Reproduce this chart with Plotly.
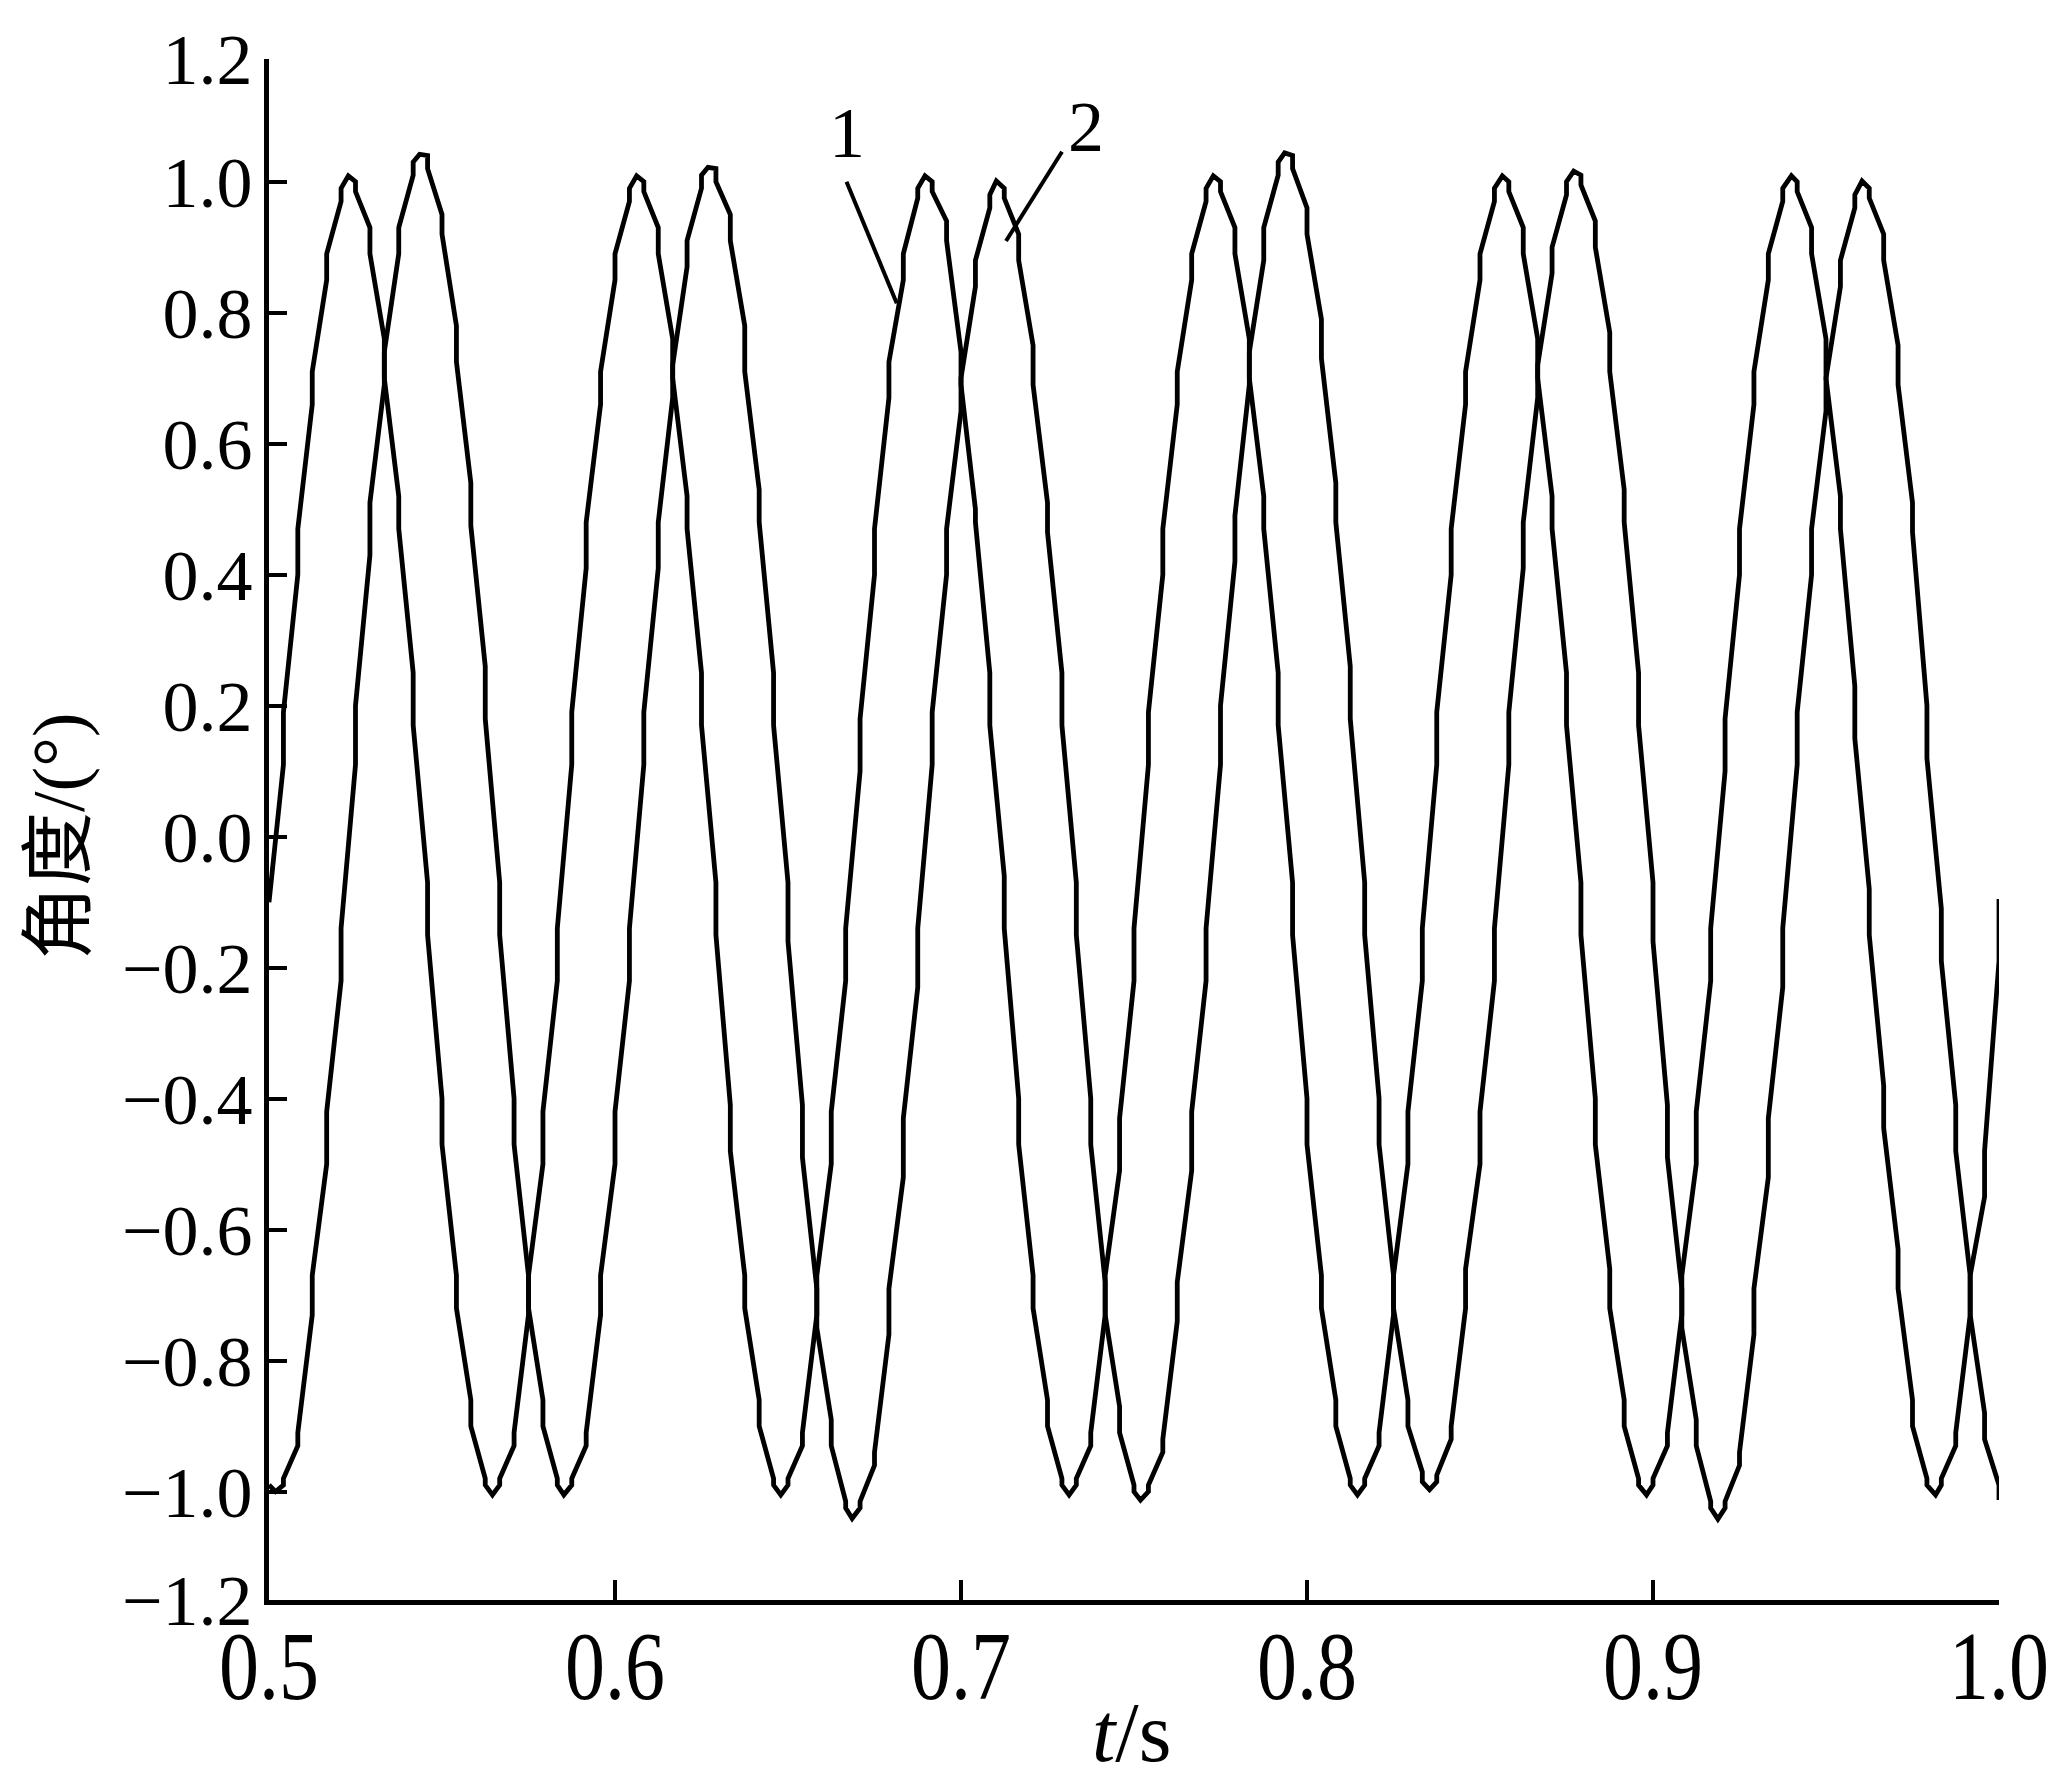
import plotly.graph_objects as go

# ---- sample-time grid (s) ----
t_grid = [0.5, 0.50417, 0.50833, 0.5125, 0.51667, 0.52083, 0.525, 0.52917, 0.53333, 0.5375,
          0.54167, 0.54583, 0.55, 0.55417, 0.55833, 0.5625, 0.56667, 0.57083, 0.575, 0.57917,
          0.58333, 0.5875, 0.59167, 0.59583, 0.6, 0.60417, 0.60833, 0.6125, 0.61667, 0.62083,
          0.625, 0.62917, 0.63333, 0.6375, 0.64167, 0.64583, 0.65, 0.65417, 0.65833, 0.6625,
          0.66667, 0.67083, 0.675, 0.67917, 0.68333, 0.6875, 0.69167, 0.69583, 0.7, 0.70417,
          0.70833, 0.7125, 0.71667, 0.72083, 0.725, 0.72917, 0.73333, 0.7375, 0.74167, 0.74583,
          0.75, 0.75417, 0.75833, 0.7625, 0.76667, 0.77083, 0.775, 0.77917, 0.78333, 0.7875,
          0.79167, 0.79583, 0.8, 0.80417, 0.80833, 0.8125, 0.81667, 0.82083, 0.825, 0.82917,
          0.83333, 0.8375, 0.84167, 0.84583, 0.85, 0.85417, 0.85833, 0.8625, 0.86667, 0.87083,
          0.875, 0.87917, 0.88333, 0.8875, 0.89167, 0.89583, 0.9, 0.90417, 0.90833, 0.9125,
          0.91667, 0.92083, 0.925, 0.92917, 0.93333, 0.9375, 0.94167, 0.94583, 0.95, 0.95417,
          0.95833, 0.9625, 0.96667, 0.97083, 0.975, 0.97917, 0.98333, 0.9875, 0.99167, 0.99583,
          1.0]

# ---- curve 1: value entering / leaving each sample step ----
c1_in = [-0.10, 0.11, 0.40, 0.66, 0.85, 0.97, 1.00, 0.93, 0.76, 0.52,
         0.25, -0.07, -0.40, -0.67, -0.86, -0.98, -0.99, -0.93, -0.73, -0.50,
         -0.22, 0.11, 0.41, 0.66, 0.85, 0.97, 1.00, 0.93, 0.76, 0.52,
         0.25, -0.07, -0.41, -0.67, -0.86, -0.98, -0.99, -0.93, -0.73, -0.50,
         -0.22, 0.10, 0.40, 0.67, 0.85, 0.975, 1.00, 0.94, 0.74, 0.50,
         0.25, -0.06, -0.40, -0.67, -0.86, -0.98, -0.99, -0.93, -0.73, -0.51,
         -0.22, 0.11, 0.40, 0.66, 0.85, 0.97, 1.00, 0.93, 0.76, 0.52,
         0.25, -0.07, -0.40, -0.67, -0.86, -0.98, -0.99, -0.93, -0.73, -0.50,
         -0.22, 0.11, 0.40, 0.66, 0.85, 0.97, 1.00, 0.93, 0.76, 0.52,
         0.25, -0.07, -0.40, -0.66, -0.86, -0.98, -0.99, -0.93, -0.73, -0.50,
         -0.22, 0.10, 0.40, 0.66, 0.85, 0.97, 1.00, 0.93, 0.76, 0.52,
         0.23, -0.08, -0.38, -0.63, -0.86, -0.98, -0.99, -0.93, -0.73, -0.55,
         -0.19]
c1_out = [-0.10, 0.19, 0.47, 0.71, 0.89, 0.99, 0.985, 0.89, 0.70, 0.47,
          0.17, -0.15, -0.47, -0.72, -0.90, -0.99, -0.98, -0.91, -0.67, -0.42,
          -0.14, 0.19, 0.48, 0.71, 0.89, 0.99, 0.985, 0.89, 0.70, 0.47,
          0.17, -0.15, -0.48, -0.72, -0.90, -0.99, -0.98, -0.91, -0.67, -0.42,
          -0.14, 0.18, 0.47, 0.725, 0.89, 0.99, 0.985, 0.91, 0.69, 0.48,
          0.17, -0.14, -0.47, -0.72, -0.90, -0.99, -0.98, -0.91, -0.67, -0.43,
          -0.14, 0.19, 0.47, 0.71, 0.89, 0.99, 0.985, 0.89, 0.70, 0.47,
          0.17, -0.15, -0.47, -0.72, -0.90, -0.99, -0.98, -0.91, -0.67, -0.42,
          -0.14, 0.19, 0.47, 0.71, 0.89, 0.99, 0.985, 0.89, 0.70, 0.47,
          0.17, -0.15, -0.47, -0.72, -0.90, -0.99, -0.98, -0.91, -0.67, -0.42,
          -0.14, 0.18, 0.47, 0.71, 0.89, 0.99, 0.985, 0.89, 0.70, 0.47,
          0.15, -0.15, -0.445, -0.69, -0.90, -0.99, -0.98, -0.91, -0.67, -0.48,
          -0.095]
c1_ext_t = [0.52292, 0.56458, 0.60625, 0.64792, 0.68958, 0.73125,
            0.77292, 0.81458, 0.85646, 0.89813, 0.94, 0.98167]
c1_ext_y = [1.009, -1.005, 1.009, -1.005, 1.009, -1.005,
            1.009, -1.005, 1.009, -1.005, 1.009, -1.005]

# ---- curve 2 ----
c2_in = [-0.99, -0.99, -0.93, -0.73, -0.50, -0.22, 0.11, 0.43, 0.69, 0.89,
         1.01, 1.04, 0.95, 0.78, 0.54, 0.26, -0.07, -0.40, -0.67, -0.86,
         -0.98, -0.99, -0.93, -0.73, -0.50, -0.22, 0.11, 0.41, 0.67, 0.87,
         0.99, 1.02, 0.95, 0.78, 0.53, 0.25, -0.07, -0.41, -0.69, -0.89,
         -1.015, -1.025, -0.96, -0.76, -0.52, -0.23, 0.11, 0.40, 0.65, 0.84,
         0.96, 0.99, 0.92, 0.75, 0.51, 0.25, -0.07, -0.40, -0.68, -0.87,
         -0.99, -1.00, -0.94, -0.74, -0.51, -0.22, 0.11, 0.42, 0.69, 0.88,
         1.01, 1.04, 0.96, 0.79, 0.54, 0.26, -0.07, -0.40, -0.67, -0.86,
         -0.97, -0.985, -0.92, -0.72, -0.50, -0.22, 0.11, 0.41, 0.67, 0.86,
         0.98, 1.01, 0.94, 0.77, 0.53, 0.25, -0.07, -0.41, -0.69, -0.89,
         -1.015, -1.025, -0.96, -0.76, -0.52, -0.23, 0.11, 0.40, 0.65, 0.84,
         0.96, 0.99, 0.92, 0.75, 0.51, 0.20, -0.11, -0.41, -0.67, -0.88,
         -0.99]
c2_out = [-0.99, -0.98, -0.91, -0.67, -0.42, -0.14, 0.20, 0.51, 0.74, 0.93,
          1.03, 1.02, 0.92, 0.725, 0.475, 0.18, -0.15, -0.47, -0.72, -0.90,
          -0.99, -0.98, -0.91, -0.67, -0.42, -0.14, 0.19, 0.48, 0.72, 0.91,
          1.01, 1.00, 0.91, 0.71, 0.48, 0.17, -0.16, -0.49, -0.75, -0.93,
          -1.025, -1.015, -0.94, -0.69, -0.43, -0.14, 0.19, 0.47, 0.70, 0.88,
          0.98, 0.975, 0.88, 0.69, 0.465, 0.17, -0.15, -0.47, -0.73, -0.91,
          -1.00, -0.99, -0.92, -0.68, -0.42, -0.14, 0.20, 0.49, 0.74, 0.93,
          1.03, 1.02, 0.92, 0.73, 0.48, 0.18, -0.15, -0.47, -0.72, -0.90,
          -0.985, -0.975, -0.90, -0.66, -0.42, -0.14, 0.19, 0.48, 0.72, 0.90,
          1.00, 0.995, 0.90, 0.71, 0.48, 0.17, -0.16, -0.49, -0.75, -0.93,
          -1.025, -1.015, -0.94, -0.69, -0.43, -0.14, 0.19, 0.47, 0.70, 0.88,
          0.98, 0.975, 0.88, 0.69, 0.465, 0.12, -0.19, -0.48, -0.73, -0.92,
          -1.013]
c2_ext_t = [0.50188, 0.54354, 0.58521, 0.62688, 0.66854, 0.71021,
            0.75188, 0.79354, 0.83542, 0.87708, 0.91875, 0.96042]
c2_ext_y = [-1.0, 1.042, -1.005, 1.022, -1.041, 1.001,
            -1.013, 1.044, -0.997, 1.016, -1.042, 1.001]

x_tick_vals = [0.5, 0.6, 0.7, 0.8, 0.9, 1.0]
x_tick_text = ["0.5", "0.6", "0.7", "0.8", "0.9", "1.0"]
y_tick_vals = [-1.1655, -1.0, -0.8, -0.6, -0.4, -0.2, 0.0, 0.2, 0.4, 0.6, 0.8, 1.0, 1.1874]
y_tick_text = ["\u22121.2", "\u22121.0", "\u22120.8", "\u22120.6", "\u22120.4", "\u22120.2",
               "0.0", "0.2", "0.4", "0.6", "0.8", "1.0", "1.2"]


def build_path(tg, y_in, y_out, ext_t, ext_y):
    pts = []
    for k in range(len(tg)):
        pts.append((tg[k], y_in[k]))
        pts.append((tg[k], y_out[k]))
    pts += list(zip(ext_t, ext_y))
    pts.sort(key=lambda p: p[0])
    return [p[0] for p in pts], [p[1] for p in pts]


x1, y1 = build_path(t_grid, c1_in, c1_out, c1_ext_t, c1_ext_y)
x2, y2 = build_path(t_grid, c2_in, c2_out, c2_ext_t, c2_ext_y)

SERIF = "Liberation Serif, Times New Roman, serif"

fig = go.Figure()
for xs, ys, nm in [(x1, y1, "1"), (x2, y2, "2")]:
    fig.add_trace(go.Scatter(x=xs, y=ys, mode="lines", name=nm,
                             line=dict(color="black", width=4.8, simplify=False),
                             hoverinfo="skip"))

fig.update_layout(
    width=2048, height=1785,
    margin=dict(l=269, r=49, t=59, b=185, pad=0),
    paper_bgcolor="white", plot_bgcolor="white",
    showlegend=False,
    font=dict(family=SERIF, color="black"),
)
fig.update_xaxes(range=[0.5, 1.0], tickvals=x_tick_vals, ticktext=x_tick_text,
                 ticks="inside", ticklen=20, tickwidth=4, tickcolor="black",
                 showline=True, linewidth=5, linecolor="black",
                 showgrid=False, zeroline=False, automargin=False,
                 tickfont=dict(family=SERIF, size=80, color="black"),
                 ticklabelstandoff=-8, ticklabeloverflow="allow")
fig.update_yaxes(range=[-1.1655, 1.1874], tickvals=y_tick_vals, ticktext=y_tick_text,
                 ticks="inside", ticklen=18, tickwidth=4, tickcolor="black",
                 showline=True, linewidth=5, linecolor="black",
                 showgrid=False, zeroline=False, automargin=False,
                 tickfont=dict(family=SERIF, size=72, color="black"),
                 ticklabelstandoff=-3, ticklabeloverflow="allow")

# curve labels with leader lines
fig.add_annotation(x=0.6671, y=1.074, text="1", showarrow=False,
                   font=dict(family=SERIF, size=72, color="black"))
fig.add_annotation(x=0.7361, y=1.0835, text="2", showarrow=False,
                   font=dict(family=SERIF, size=72, color="black"))
fig.add_shape(type="line", x0=0.66691, y0=1.0, x1=0.68142, y1=0.8144,
              line=dict(color="black", width=4))
fig.add_shape(type="line", x0=0.72919, y0=1.0458, x1=0.71301, y1=0.9095,
              line=dict(color="black", width=4))

# axis titles
fig.add_annotation(xref="paper", yref="paper", x=-0.1214, y=0.4958,
                   text="角度/(°)", textangle=-90, showarrow=False,
                   xanchor="center", yanchor="middle",
                   font=dict(family="Liberation Serif, Noto Sans CJK SC", size=74, color="black"))
fig.add_annotation(xref="paper", yref="paper", x=0.4983, y=-0.0863,
                   text="<i>t</i>/s", showarrow=False,
                   xanchor="center", yanchor="middle",
                   font=dict(family=SERIF, size=84, color="black"))

# remove the default page margin; stretch x tick labels vertically like the original
post_js = """
document.body.style.margin = '0';
var gd = document.getElementById('{plot_id}');
var s = 1.22;
gd.querySelectorAll('g.xtick text').forEach(function(t){
  var bb = t.getBBox();
  var cy = bb.y + bb.height / 2;
  var tr = t.getAttribute('transform') || '';
  t.setAttribute('transform', tr + ' translate(0,' + cy + ') scale(1,' + s + ') translate(0,' + (-cy) + ')');
});
"""

fig.write_html("out.html", post_script=post_js, config={"displayModeBar": False})
